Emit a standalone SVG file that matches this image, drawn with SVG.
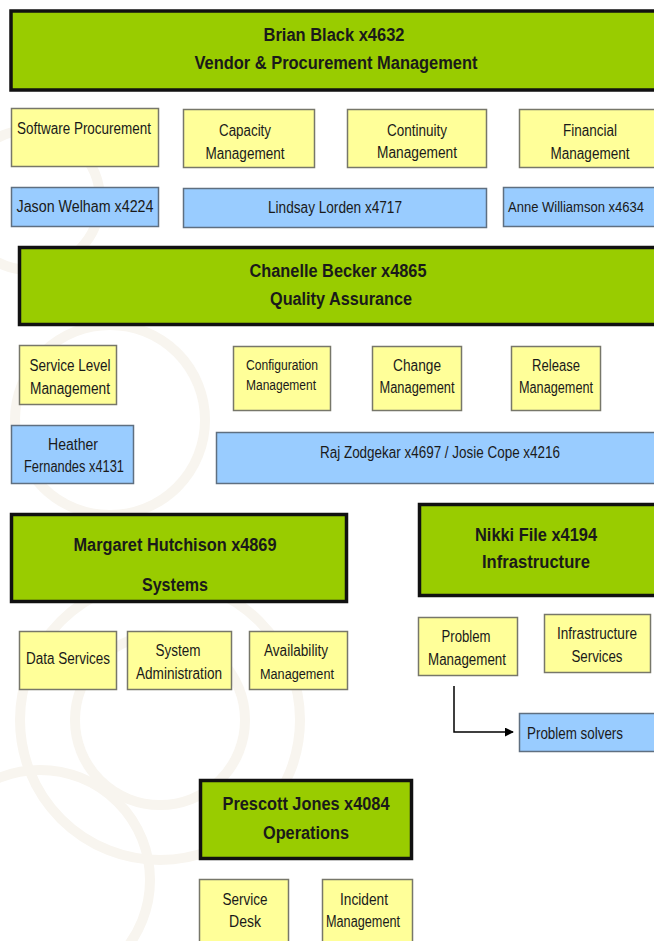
<svg xmlns="http://www.w3.org/2000/svg" width="654" height="941" viewBox="0 0 654 941">
<defs>
<style>
.bg{fill:#ffffff}
.wm{fill:none;stroke:#f8f5ef;stroke-width:10}
.g{fill:#99cc00;stroke:#111111;stroke-width:3.5}
.y{fill:#ffff99;stroke:#77776a;stroke-width:1.5}
.b{fill:#99ccff;stroke:#5f6f80;stroke-width:1.5}
text{font-family:"Liberation Sans",Arial,sans-serif;fill:#1a1a1a;text-anchor:middle}
.h{font-size:18px;font-weight:bold}
.t{font-size:16px}
.s{font-size:14px}
.c{fill:none;stroke:#000000;stroke-width:1.5}
</style>
<marker id="arr" viewBox="0 0 10 10" refX="9" refY="5" markerWidth="9" markerHeight="9" markerUnits="userSpaceOnUse" orient="auto">
<path d="M0,0 L10,5 L0,10 z" fill="#000000"/>
</marker>
</defs>
<rect class="bg" x="0" y="0" width="654" height="941"/>
<g id="watermark">
<circle class="wm" cx="110" cy="420" r="95"/>
<circle class="wm" cx="160" cy="720" r="140"/>
<circle class="wm" cx="160" cy="720" r="85"/>
<circle class="wm" cx="40" cy="880" r="110"/>
<circle class="wm" cx="30" cy="200" r="70"/>
</g>

<g id="brian">
<rect class="g" x="11" y="11" width="660" height="79"/>
<text class="h" x="334" y="41" textLength="141" lengthAdjust="spacingAndGlyphs">Brian Black x4632</text>
<text class="h" x="336" y="69" textLength="283" lengthAdjust="spacingAndGlyphs">Vendor &amp; Procurement Management</text>
</g>
<g id="software">
<rect class="y" x="11.5" y="108.5" width="147" height="58"/>
<text class="t" x="84" y="134" textLength="134" lengthAdjust="spacingAndGlyphs">Software Procurement</text>
</g>
<g id="capacity">
<rect class="y" x="183.5" y="109.5" width="131" height="58"/>
<text class="t" x="245" y="136" textLength="52" lengthAdjust="spacingAndGlyphs">Capacity</text>
<text class="t" x="245" y="159" textLength="79" lengthAdjust="spacingAndGlyphs">Management</text>
</g>
<g id="continuity">
<rect class="y" x="347.5" y="109.5" width="139" height="58"/>
<text class="t" x="417" y="136" textLength="60" lengthAdjust="spacingAndGlyphs">Continuity</text>
<text class="t" x="417" y="158" textLength="80" lengthAdjust="spacingAndGlyphs">Management</text>
</g>
<g id="financial">
<rect class="y" x="519.5" y="109.5" width="150" height="58"/>
<text class="t" x="590" y="136" textLength="54" lengthAdjust="spacingAndGlyphs">Financial</text>
<text class="t" x="590" y="159" textLength="79" lengthAdjust="spacingAndGlyphs">Management</text>
</g>
<g id="jason">
<rect class="b" x="11.5" y="187.5" width="147" height="39"/>
<text class="t" x="85" y="212" textLength="137" lengthAdjust="spacingAndGlyphs">Jason Welham x4224</text>
</g>
<g id="lindsay">
<rect class="b" x="183.5" y="188.5" width="303" height="39"/>
<text class="t" x="335" y="213" textLength="134" lengthAdjust="spacingAndGlyphs">Lindsay Lorden x4717</text>
</g>
<g id="anne">
<rect class="b" x="503.5" y="187.5" width="166" height="39"/>
<text x="576" y="212" style="font-size:14px" textLength="136" lengthAdjust="spacingAndGlyphs">Anne Williamson x4634</text>
</g>

<g id="chanelle">
<rect class="g" x="19.5" y="247.5" width="650" height="77"/>
<text class="h" x="338" y="277" textLength="177" lengthAdjust="spacingAndGlyphs">Chanelle Becker x4865</text>
<text class="h" x="341" y="305" textLength="142" lengthAdjust="spacingAndGlyphs">Quality Assurance</text>
</g>
<g id="servicelevel">
<rect class="y" x="19.5" y="345.5" width="97" height="59"/>
<text class="t" x="70" y="371" textLength="81" lengthAdjust="spacingAndGlyphs">Service Level</text>
<text class="t" x="70" y="394" textLength="80" lengthAdjust="spacingAndGlyphs">Management</text>
</g>
<g id="configuration">
<rect class="y" x="233.5" y="346.5" width="97" height="64"/>
<text class="s" x="282" y="370" textLength="72" lengthAdjust="spacingAndGlyphs">Configuration</text>
<text class="s" x="281" y="390" textLength="70" lengthAdjust="spacingAndGlyphs">Management</text>
</g>
<g id="change">
<rect class="y" x="372.5" y="346.5" width="89" height="64"/>
<text class="t" x="417" y="371" textLength="48" lengthAdjust="spacingAndGlyphs">Change</text>
<text class="t" x="417" y="393" textLength="75" lengthAdjust="spacingAndGlyphs">Management</text>
</g>
<g id="release">
<rect class="y" x="511.5" y="346.5" width="89" height="64"/>
<text class="t" x="556" y="371" textLength="48" lengthAdjust="spacingAndGlyphs">Release</text>
<text class="t" x="556" y="393" textLength="74" lengthAdjust="spacingAndGlyphs">Management</text>
</g>
<g id="heather">
<rect class="b" x="11.5" y="425.5" width="122" height="58"/>
<text class="t" x="73" y="450" textLength="50" lengthAdjust="spacingAndGlyphs">Heather</text>
<text class="t" x="74" y="472" textLength="100" lengthAdjust="spacingAndGlyphs">Fernandes x4131</text>
</g>
<g id="raj">
<rect class="b" x="216.5" y="432.5" width="453" height="51"/>
<text class="t" x="440" y="458" textLength="240" lengthAdjust="spacingAndGlyphs">Raj Zodgekar x4697 / Josie Cope x4216</text>
</g>

<g id="margaret">
<rect class="g" x="11.5" y="514.5" width="335" height="87"/>
<text class="h" x="175" y="551" textLength="203" lengthAdjust="spacingAndGlyphs">Margaret Hutchison x4869</text>
<text class="h" x="175" y="591" textLength="66" lengthAdjust="spacingAndGlyphs">Systems</text>
</g>
<g id="nikki">
<rect class="g" x="419.5" y="504.5" width="250" height="91"/>
<text class="h" x="536" y="541" textLength="122" lengthAdjust="spacingAndGlyphs">Nikki File x4194</text>
<text class="h" x="536" y="568" textLength="108" lengthAdjust="spacingAndGlyphs">Infrastructure</text>
</g>
<g id="dataservices">
<rect class="y" x="19.5" y="631.5" width="97" height="58"/>
<text class="t" x="68" y="664" textLength="84" lengthAdjust="spacingAndGlyphs">Data Services</text>
</g>
<g id="sysadmin">
<rect class="y" x="127.5" y="631.5" width="104" height="58"/>
<text class="t" x="178" y="656" textLength="45" lengthAdjust="spacingAndGlyphs">System</text>
<text class="t" x="179" y="679" textLength="86" lengthAdjust="spacingAndGlyphs">Administration</text>
</g>
<g id="availability">
<rect class="y" x="249.5" y="631.5" width="98" height="58"/>
<text class="t" x="296" y="656" textLength="64" lengthAdjust="spacingAndGlyphs">Availability</text>
<text class="s" x="297" y="679" textLength="74" lengthAdjust="spacingAndGlyphs">Management</text>
</g>
<g id="problemmgmt">
<rect class="y" x="418.5" y="617.5" width="99" height="58"/>
<text class="t" x="466" y="642" textLength="49" lengthAdjust="spacingAndGlyphs">Problem</text>
<text class="t" x="467" y="665" textLength="78" lengthAdjust="spacingAndGlyphs">Management</text>
</g>
<g id="infraservices">
<rect class="y" x="544.5" y="614.5" width="106" height="58"/>
<text class="t" x="597" y="639" textLength="80" lengthAdjust="spacingAndGlyphs">Infrastructure</text>
<text class="t" x="597" y="662" textLength="51" lengthAdjust="spacingAndGlyphs">Services</text>
</g>
<g id="problemsolvers">
<rect class="b" x="519.5" y="713.5" width="150" height="38"/>
<text class="t" x="527" y="739" textLength="96" lengthAdjust="spacingAndGlyphs" style="text-anchor:start">Problem solvers</text>
</g>

<g id="prescott">
<rect class="g" x="200.5" y="780.5" width="211" height="78"/>
<text class="h" x="306" y="810" textLength="167" lengthAdjust="spacingAndGlyphs">Prescott Jones x4084</text>
<text class="h" x="306" y="839" textLength="86" lengthAdjust="spacingAndGlyphs">Operations</text>
</g>
<g id="servicedesk">
<rect class="y" x="199.5" y="879.5" width="89" height="70"/>
<text class="t" x="245" y="905" textLength="45" lengthAdjust="spacingAndGlyphs">Service</text>
<text class="t" x="245" y="927" textLength="32" lengthAdjust="spacingAndGlyphs">Desk</text>
</g>
<g id="incident">
<rect class="y" x="322.5" y="879.5" width="90" height="70"/>
<text class="t" x="364" y="905" textLength="48" lengthAdjust="spacingAndGlyphs">Incident</text>
<text class="t" x="363" y="927" textLength="74" lengthAdjust="spacingAndGlyphs">Management</text>
</g>

<g id="connectors">
<path class="c" d="M454,686 L454,732 L513,732" marker-end="url(#arr)"/>
</g>
</svg>
